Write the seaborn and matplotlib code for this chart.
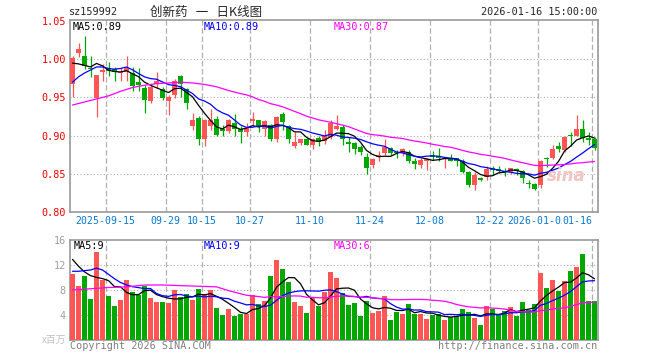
import numpy as np
import pandas as pd
import matplotlib
matplotlib.use('Agg')
from matplotlib import pyplot as plt
from matplotlib import transforms
import seaborn as sns

# daily bars of sz159992, 2025-09-05 .. 2026-01-16 (88 trading days)
opens = [0.967, 1.008, 1.004, 0.989, 0.949, 0.984, 0.988, 0.987, 0.982, 0.984,
         0.982, 0.970, 0.962, 0.945, 0.967, 0.961, 0.945, 0.953, 0.978, 0.961,
         0.912, 0.923, 0.895, 0.913, 0.922, 0.909, 0.906, 0.916, 0.909, 0.905,
         0.919, 0.920, 0.909, 0.914, 0.895, 0.928, 0.912, 0.886, 0.890, 0.895,
         0.888, 0.897, 0.893, 0.898, 0.908, 0.911, 0.892, 0.890, 0.885, 0.872,
         0.861, 0.872, 0.877, 0.883, 0.879, 0.877, 0.879, 0.867, 0.861, 0.867,
         0.875, 0.873, 0.869, 0.871, 0.870, 0.867, 0.852, 0.835, 0.844, 0.845,
         0.857, 0.856, 0.854, 0.852, 0.856, 0.853, 0.837, 0.836, 0.835, 0.870,
         0.870, 0.886, 0.881, 0.900, 0.900, 0.909, 0.897, 0.895]
closes = [1.002, 1.014, 0.991, 0.987, 0.979, 0.986, 0.985, 0.983, 0.984, 0.988,
          0.965, 0.966, 0.947, 0.964, 0.971, 0.949, 0.951, 0.972, 0.968, 0.943,
          0.920, 0.895, 0.920, 0.921, 0.901, 0.906, 0.920, 0.909, 0.904, 0.910,
          0.922, 0.911, 0.919, 0.895, 0.924, 0.918, 0.896, 0.891, 0.895, 0.888,
          0.896, 0.892, 0.899, 0.917, 0.912, 0.895, 0.889, 0.882, 0.878, 0.858,
          0.869, 0.874, 0.885, 0.877, 0.877, 0.882, 0.866, 0.862, 0.868, 0.869,
          0.872, 0.870, 0.870, 0.867, 0.867, 0.852, 0.835, 0.848, 0.842, 0.856,
          0.855, 0.854, 0.852, 0.857, 0.853, 0.844, 0.836, 0.830, 0.867, 0.869,
          0.882, 0.882, 0.898, 0.899, 0.909, 0.897, 0.894, 0.884]
highs = [1.004, 1.021, 1.030, 1.004, 0.980, 0.994, 0.997, 0.990, 0.988, 1.004,
         0.990, 0.989, 0.966, 0.966, 0.984, 0.964, 0.953, 0.974, 0.980, 0.962,
         0.930, 0.926, 0.922, 0.935, 0.926, 0.914, 0.922, 0.928, 0.912, 0.916,
         0.931, 0.921, 0.920, 0.915, 0.926, 0.931, 0.914, 0.905, 0.896, 0.897,
         0.897, 0.900, 0.907, 0.920, 0.927, 0.914, 0.898, 0.892, 0.888, 0.877,
         0.871, 0.880, 0.895, 0.885, 0.881, 0.883, 0.881, 0.870, 0.870, 0.871,
         0.880, 0.883, 0.871, 0.876, 0.871, 0.869, 0.853, 0.852, 0.846, 0.860,
         0.860, 0.860, 0.857, 0.858, 0.858, 0.855, 0.841, 0.838, 0.868, 0.872,
         0.887, 0.891, 0.900, 0.905, 0.927, 0.921, 0.904, 0.898]
lows = [0.951, 1.003, 0.987, 0.977, 0.924, 0.971, 0.978, 0.972, 0.971, 0.971,
        0.959, 0.959, 0.930, 0.943, 0.962, 0.946, 0.927, 0.949, 0.951, 0.935,
        0.907, 0.887, 0.886, 0.907, 0.900, 0.900, 0.903, 0.899, 0.890, 0.899,
        0.914, 0.904, 0.899, 0.893, 0.892, 0.907, 0.890, 0.883, 0.887, 0.887,
        0.882, 0.886, 0.889, 0.896, 0.907, 0.887, 0.879, 0.876, 0.874, 0.850,
        0.857, 0.867, 0.875, 0.875, 0.870, 0.873, 0.864, 0.856, 0.857, 0.855,
        0.868, 0.867, 0.858, 0.866, 0.860, 0.851, 0.832, 0.829, 0.840, 0.842,
        0.848, 0.851, 0.847, 0.849, 0.848, 0.838, 0.831, 0.829, 0.831, 0.859,
        0.869, 0.878, 0.879, 0.886, 0.899, 0.892, 0.887, 0.881]
# volume, x百万
volumes = [10.56, 8.64, 10.24, 6.56, 14.08, 9.6, 7.04, 5.44, 6.4, 9.6,
           7.68, 7.2, 8.64, 6.72, 6.08, 6.08, 5.92, 8.0, 6.88, 7.3,
           6.4, 8.16, 7.3, 8.0, 5.12, 4.0, 4.96, 3.9, 4.16, 4.16,
           7.2, 5.76, 6.24, 10.24, 12.8, 11.36, 9.33, 6.08, 5.44, 4.32,
           6.88, 5.44, 7.68, 10.88, 9.97, 7.47, 5.6, 5.87, 3.84, 6.24,
           4.27, 4.64, 7.04, 3.2, 4.53, 4.16, 5.76, 4.16, 4.16, 3.36,
           4.0, 4.16, 3.2, 3.63, 3.84, 4.96, 4.53, 3.57, 2.4, 5.44,
           4.96, 4.0, 4.64, 5.28, 3.84, 6.08, 4.8, 5.76, 10.72, 8.32,
           9.6, 7.89, 9.44, 11.04, 11.68, 13.76, 6.24, 6.24]

ma5_head_idx = [0, 1, 2, 3]
ma5_head = [0.995, 0.994, 0.992, 0.990]
ma10_head_idx = [0, 1, 2, 3, 4, 5, 6, 7, 8]
ma10_head = [0.970, 0.977, 0.982, 0.986, 0.990, 0.990, 0.988, 0.987, 0.988]
ma30_head_idx = [0, 2, 4, 6, 8, 10, 12, 14, 16, 18, 20, 22, 24, 26, 28]
ma30_head = [0.940, 0.944, 0.948, 0.952, 0.958, 0.963, 0.966, 0.968, 0.969,
             0.970, 0.969, 0.967, 0.964, 0.959, 0.955]
vma5_head_idx = [0, 1, 2, 3]
vma5_head = [12.9, 11.8, 10.9, 10.3]
vma10_head_idx = [0, 1, 2, 3, 4, 5, 6, 7, 8]
vma10_head = [11.0, 11.0, 11.1, 11.2, 11.5, 11.2, 10.5, 9.8, 9.2]
vma30_head_idx = [0, 3, 6, 9, 12, 15, 18, 21, 24, 26, 28]
vma30_head = [8.0, 8.2, 8.4, 8.5, 8.8, 8.8, 8.7, 8.6, 8.5, 7.9, 7.4]

tick_labels = ['2025-09-15', '09-29', '10-15', '10-27', '11-10', '11-24',
               '12-08', '12-22', '2026-01-05', '01-16']
tick_pos = [6, 16, 22, 30, 40, 50, 60, 70, 78, 87]
price_ticks = [0.80, 0.85, 0.90, 0.95, 1.00, 1.05]
vol_ticks = [4, 8, 12, 16]

RED = '#ff5555'
GREEN = '#00a800'
GRID = '#b0b0b0'
MONO = 'DejaVu Sans Mono'

sns.set_style('white')
plt.rcParams['font.family'] = ['DejaVu Sans Mono', 'Noto Sans CJK SC']

W, H = 660, 360
fig = plt.figure(figsize=(W / 100, H / 100), dpi=100)


def fig_xy(x, y):
    return x / W, 1 - y / H


ax = fig.add_axes([70 / W, 1 - 211.7 / H, 527.5 / W, 191.7 / H])
axv = fig.add_axes([70 / W, 1 - 340 / H, 527.5 / W, 100 / H])

df = pd.DataFrame({'open': opens, 'close': closes, 'high': highs,
                   'low': lows, 'vol': volumes})
df['idx'] = np.arange(len(df))
df['color'] = np.where(df['close'] >= df['open'], RED, GREEN)


def ma_line(values, n, head_idx, head_vals):
    s = pd.Series(values).rolling(n).mean()
    x = list(head_idx) + list(range(n - 1, len(values)))
    y = list(head_vals) + list(s.iloc[n - 1:])
    return pd.DataFrame({'x': x, 'y': y})


# candles
body_lo = df[['open', 'close']].min(axis=1)
body_h = (df['close'] - df['open']).abs().clip(lower=0.0012)
ax.vlines(df['idx'], df['low'], df['high'], colors=df['color'], lw=0.9, zorder=3)
ax.bar(df['idx'], body_h, bottom=body_lo, width=0.83, color=df['color'],
       linewidth=0, zorder=4)

for n, hi, hv, col in [(5, ma5_head_idx, ma5_head, 'black'),
                       (10, ma10_head_idx, ma10_head, '#0000ff'),
                       (30, ma30_head_idx, ma30_head, '#ff00ff')]:
    d = ma_line(closes, n, hi, hv)
    sns.lineplot(data=d, x='x', y='y', color=col, lw=0.9, ax=ax,
                 estimator=None, sort=False, zorder=5)

# volume
axv.bar(df['idx'], df['vol'], width=0.83, color=df['color'], linewidth=0, zorder=3)
for n, hi, hv, col in [(5, vma5_head_idx, vma5_head, 'black'),
                       (10, vma10_head_idx, vma10_head, '#0000ff'),
                       (30, vma30_head_idx, vma30_head, '#ff00ff')]:
    d = ma_line(volumes, n, hi, hv)
    sns.lineplot(data=d, x='x', y='y', color=col, lw=0.9, ax=axv,
                 estimator=None, sort=False, zorder=5)

for a in (ax, axv):
    a.set_xlim(-0.42, 87.5)
    a.set_xlabel('')
    a.set_ylabel('')
    a.set_xticks([])
    for sp in a.spines.values():
        sp.set_visible(True)
        sp.set_color('#999999')
        sp.set_linewidth(1.2)
    for p in tick_pos:
        a.axvline(p - 0.37, color=GRID, lw=0.9, ls=(0, (4.3, 2.2)), zorder=1)
    a.tick_params(axis='y', length=0, pad=3)

ax.set_ylim(0.80, 1.0516)
ax.set_yticks(price_ticks)
ax.set_yticklabels(['%.2f' % t for t in price_ticks], color='#ee0000',
                   fontsize=7.3, family=MONO)
for t in price_ticks[1:-1]:
    ax.axhline(t, color=GRID, lw=0.8, ls=(0, (1, 2)), zorder=1)

axv.set_ylim(0, 16)
axv.set_yticks(vol_ticks)
axv.set_yticklabels([str(t) for t in vol_ticks], color='#a0a0a0',
                    fontsize=7.3, family=MONO)
for t in vol_ticks[:-1]:
    axv.axhline(t, color=GRID, lw=0.8, ls=(0, (1, 2)), zorder=1)

# date labels under the price panel
trans = transforms.blended_transform_factory(ax.transData, ax.transAxes)
for lab, p in zip(tick_labels, tick_pos):
    last = lab == tick_labels[-1]
    ax.text(p - 0.37 if last else p - 0.5, -0.05, lab, transform=trans,
            ha='right' if last else 'center', va='center', fontsize=7.1,
            family=MONO, color='#0a78d2',
            bbox=dict(fc='white', ec='none', pad=0.3) if last else None)

# header
fig.text(*fig_xy(69, 12), 'sz159992', ha='left', va='center', fontsize=7.3,
         family=MONO)
fig.text(*fig_xy(150, 12), '创新药   一   日K线图', ha='left', va='center',
         fontsize=9, family=['Noto Sans CJK SC', 'DejaVu Sans'])
fig.text(*fig_xy(597, 12), '2026-01-16 15:00:00', ha='right', va='center',
         fontsize=7.3, family=MONO)

# MA legends
for x, s, c in [(73, 'MA5:0.89', 'black'), (204, 'MA10:0.89', '#0000ff'),
                (334, 'MA30:0.87', '#ff00ff')]:
    fig.text(*fig_xy(x, 27), s, ha='left', va='center', fontsize=7.3,
             family=MONO, color=c)
for x, s, c in [(74, 'MA5:9', 'black'), (204, 'MA10:9', '#0000ff'),
                (334, 'MA30:6', '#ff00ff')]:
    fig.text(*fig_xy(x, 246), s, ha='left', va='center', fontsize=7.3,
             family=MONO, color=c)

fig.text(*fig_xy(66, 340), 'x百万', ha='right', va='center', fontsize=7,
         family=['Noto Sans CJK SC', 'DejaVu Sans'], color='#c0c0c0')
fig.text(*fig_xy(70, 346), 'Copyright 2026 SINA.COM', ha='left', va='center',
         fontsize=7.3, family=MONO, color='#808080')
fig.text(*fig_xy(597, 346), 'http://finance.sina.com.cn', ha='right',
         va='center', fontsize=7.3, family=MONO, color='#808080')

# faint sina watermark
fig.text(*fig_xy(566, 176), 'sina', ha='center', va='center', fontsize=12,
         style='italic', weight='bold', color='#f3c4c4', family='DejaVu Sans',
         zorder=0)

fig.savefig('out.png', dpi=100, facecolor='white')
